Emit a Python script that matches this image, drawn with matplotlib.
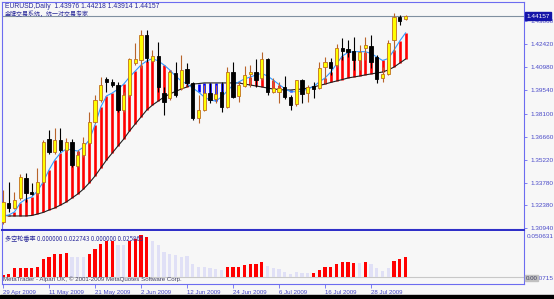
import matplotlib
matplotlib.use("Agg")
import numpy as np
from matplotlib import pyplot as plt
from matplotlib.patches import Rectangle

# ---- data (EURUSD daily, 29 Apr 2009 .. 5 Aug 2009) ----
opens = [1.3135, 1.3250, 1.3219, 1.3281, 1.3410, 1.3321, 1.3312, 1.3385, 1.3649, 1.3572,
         1.3645, 1.3582, 1.3634, 1.3483, 1.3551, 1.3624, 1.3759, 1.3894, 1.4024, 1.4009,
         1.3988, 1.3832, 1.3926, 1.4124, 1.4144, 1.4300, 1.4140, 1.4169, 1.3936, 1.3905,
         1.4065, 1.3968, 1.4086, 1.3999, 1.3780, 1.3832, 1.3936, 1.3899, 1.3946, 1.3853,
         1.4067, 1.3921, 1.3982, 1.4057, 1.4067, 1.4030, 1.4148, 1.3946, 1.3946, 1.3978,
         1.3911, 1.3870, 1.4019, 1.3940, 1.3982, 1.3968, 1.4099, 1.4134, 1.4113, 1.4217,
         1.4211, 1.4200, 1.4144, 1.4221, 1.4231, 1.4165, 1.4030, 1.4057, 1.4269, 1.4411,
         1.43976]
highs = [1.3333, 1.3385, 1.3322, 1.3433, 1.3437, 1.3375, 1.3468, 1.3645, 1.3707, 1.3718,
         1.3718, 1.3656, 1.3649, 1.3582, 1.3666, 1.3822, 1.3926, 1.4040, 1.4040, 1.4024,
         1.4007, 1.3946, 1.4155, 1.4248, 1.4331, 1.4331, 1.4206, 1.4258, 1.3978, 1.4082,
         1.4134, 1.4175, 1.4124, 1.4007, 1.3926, 1.3988, 1.3999, 1.3988, 1.4009, 1.4102,
         1.4134, 1.4009, 1.4109, 1.4113, 1.4148, 1.4196, 1.4155, 1.4030, 1.4009, 1.4044,
         1.3926, 1.4019, 1.4024, 1.3988, 1.4009, 1.4134, 1.4165, 1.4157, 1.4244, 1.4279,
         1.4269, 1.4289, 1.4238, 1.4289, 1.4300, 1.4175, 1.4102, 1.4269, 1.4435, 1.4425,
         1.44218]
lows = [1.3121, 1.3198, 1.3213, 1.3271, 1.3260, 1.3302, 1.3302, 1.3375, 1.3558, 1.3558,
        1.3572, 1.3572, 1.3475, 1.3475, 1.3541, 1.3620, 1.3751, 1.3882, 1.3946, 1.3978,
        1.3822, 1.3822, 1.3915, 1.4113, 1.4092, 1.4133, 1.4132, 1.3946, 1.3801, 1.3894,
        1.3913, 1.3957, 1.3988, 1.3770, 1.3749, 1.3826, 1.3874, 1.3874, 1.3822, 1.3843,
        1.3905, 1.3884, 1.3976, 1.3978, 1.3978, 1.4019, 1.3926, 1.3938, 1.3874, 1.3899,
        1.3832, 1.3857, 1.3874, 1.3884, 1.3905, 1.3961, 1.3999, 1.4051, 1.4102, 1.4144,
        1.4165, 1.4082, 1.4082, 1.4144, 1.4092, 1.3999, 1.4009, 1.4051, 1.4196, 1.4362,
        1.43914]
closes = [1.3260, 1.3219, 1.3271, 1.3412, 1.3312, 1.3308, 1.3381, 1.3634, 1.3572, 1.3645,
          1.3582, 1.3634, 1.3489, 1.3551, 1.3624, 1.3759, 1.3894, 1.3988, 1.4009, 1.3988,
          1.3832, 1.3926, 1.4148, 1.4148, 1.4300, 1.4155, 1.4169, 1.3978, 1.3884, 1.4071,
          1.3926, 1.4082, 1.4002, 1.3780, 1.3832, 1.3936, 1.3894, 1.3932, 1.3849, 1.4067,
          1.3915, 1.3988, 1.4051, 1.4067, 1.4019, 1.4148, 1.3946, 1.3968, 1.3968, 1.3911,
          1.3863, 1.4019, 1.3932, 1.3978, 1.3965, 1.4092, 1.4134, 1.4092, 1.4217, 1.4202,
          1.4196, 1.4144, 1.4196, 1.4238, 1.4132, 1.4024, 1.4057, 1.4248, 1.4411, 1.4387,
          1.44157]

fast_ma = [1.3171, 1.3177, 1.3196, 1.3252, 1.3277, 1.3289, 1.3327, 1.3383, 1.3458, 1.3520,
           1.3564, 1.3589, 1.3583, 1.3576, 1.3601, 1.3645, 1.3739, 1.3851, 1.3920, 1.3938,
           1.3963, 1.3994, 1.4038, 1.4075, 1.4113, 1.4138, 1.4153, 1.4138, 1.4113, 1.4082,
           1.4044, 1.4013, 1.3994, 1.3969, 1.3944, 1.3913, 1.3894, 1.3888, 1.3913, 1.3951,
           1.3988, 1.4007, 1.4026, 1.4038, 1.4051, 1.4060, 1.4044, 1.4019, 1.3991, 1.3966,
           1.3946, 1.3946, 1.3951, 1.3963, 1.3979, 1.4007, 1.4032, 1.4069, 1.4119, 1.4169,
           1.4191, 1.4196, 1.4196, 1.4196, 1.4185, 1.4163, 1.4141, 1.4153, 1.4206, 1.4263,
           1.4313]
slow_ma = [1.3177, 1.3171, 1.3171, 1.3171, 1.3171, 1.3174, 1.3183, 1.3193, 1.3208, 1.3221,
           1.3239, 1.3258, 1.3283, 1.3308, 1.3339, 1.3377, 1.3420, 1.3470, 1.3520, 1.3564,
           1.3608, 1.3651, 1.3701, 1.3745, 1.3788, 1.3832, 1.3863, 1.3888, 1.3913, 1.3932,
           1.3948, 1.3963, 1.3976, 1.3994, 1.3997, 1.4001, 1.4001, 1.4001, 1.4001, 1.4001,
           1.4001, 1.4001, 1.3994, 1.3988, 1.3982, 1.3976, 1.3969, 1.3963, 1.3960, 1.3957,
           1.3957, 1.3960, 1.3963, 1.3969, 1.3976, 1.3985, 1.3994, 1.4004, 1.4013, 1.4022,
           1.4032, 1.4038, 1.4044, 1.4051, 1.4057, 1.4063, 1.4069, 1.4082, 1.4100, 1.4125,
           1.4150]

ratio = [0.0026, 0.0034, 0.0108, 0.0108, 0.0108, 0.0108, 0.0119, 0.0202, 0.0224, 0.0261,
         0.0261, 0.0272, 0.0224, 0.0224, 0.0231, 0.0261, 0.0317, 0.0373, 0.0410, 0.0410,
         0.0362, 0.0362, 0.0410, 0.0429, 0.0474, 0.0448, 0.0410, 0.0362, 0.0287, 0.0261,
         0.0250, 0.0231, 0.0242, 0.0149, 0.0119, 0.0119, 0.0108, 0.0093, 0.0082, 0.0119,
         0.0112, 0.0112, 0.0138, 0.0146, 0.0146, 0.0168, 0.0130, 0.0101, 0.0090, 0.0063,
         0.0034, 0.0056, 0.0045, 0.0045, 0.0045, 0.0082, 0.0112, 0.0119, 0.0149, 0.0168,
         0.0175, 0.0164, 0.0164, 0.0168, 0.0146, 0.0101, 0.0074, 0.0108, 0.0183, 0.0205,
         0.022743]
ratio_up = [1, 1, 1, 1, 1, 1, 1, 1, 1, 1, 1, 1, 0, 0, 0, 1, 1, 1, 1, 1,
            0, 0, 1, 1, 1, 1, 0, 0, 0, 0, 0, 0, 0, 0, 0, 0, 0, 0, 0, 1,
            1, 1, 1, 1, 1, 1, 0, 0, 0, 0, 0, 0, 0, 0, 1, 1, 1, 1, 1, 1,
            1, 1, 0, 1, 0, 0, 0, 0, 1, 1, 1]

price_ticks = [1.43860, 1.42420, 1.40980, 1.39540, 1.38100, 1.36660,
               1.35220, 1.33780, 1.32380, 1.30940]
date_idx = [0, 8, 16, 24, 32, 40, 48, 56, 64]
date_labels = ['29 Apr 2009', '11 May 2009', '21 May 2009', '2 Jun 2009', '12 Jun 2009',
               '24 Jun 2009', '6 Jul 2009', '16 Jul 2009', '28 Jul 2009']
bid = 1.44157

# ---- figure ----
W, H = 554, 299
bg = '#f7f7f7'
frame = '#6c6cf0'
axis_txt = '#4a4ac8'
num_font = 'Liberation Sans'
cjk = ['Noto Sans CJK SC', 'DejaVu Sans']

fig = plt.figure(figsize=(W / 100, H / 100), dpi=100, facecolor=bg)


def px_axes(x0, y0, x1, y1):
    return fig.add_axes([x0 / W, 1 - y1 / H, (x1 - x0) / W, (y1 - y0) / H])


ax = px_axes(2, 2, 524, 230)
ax2 = px_axes(2, 231, 524, 284)

x = np.arange(len(opens))
o, h, l, c = map(np.array, (opens, highs, lows, closes))
fast, slow = np.array(fast_ma), np.array(slow_ma)

# MA ribbon histogram
up = fast >= slow
ax.vlines(x[up], slow[up], fast[up], colors='#ff0000', linewidth=1.9, zorder=1)
ax.vlines(x[~up], fast[~up], slow[~up], colors='#0000ff', linewidth=1.9, zorder=1)
ax.plot(x, slow, color='#202020', lw=0.8, zorder=2)
ax.plot(x, fast, color='#3399ff', lw=0.8, zorder=2)

# candles
bull = c >= o
ax.vlines(x[bull], l[bull], h[bull], colors='#b8642a', linewidth=0.8, zorder=3)
ax.vlines(x[~bull], l[~bull], h[~bull], colors='#000000', linewidth=0.8, zorder=3)
body_lo = np.minimum(o, c)
body_h = np.maximum(np.abs(c - o), 0.0003)
ax.bar(x[bull], body_h[bull], bottom=body_lo[bull], width=0.55, color='#ffff00',
       edgecolor='#c0701e', linewidth=0.6, zorder=4)
ax.bar(x[~bull], body_h[~bull], bottom=body_lo[~bull], width=0.55, color='#000000',
       edgecolor='#000000', linewidth=0.6, zorder=4)

ax.axhline(bid, color='#8090a0', lw=0.8, zorder=0)

ax.set_xlim(-0.17, 90.6)
ax.set_ylim(1.30834, 1.45059)
ax.set_facecolor(bg)
ax.set_xticks([])
ax.yaxis.tick_right()
ax.set_yticks(price_ticks)
ax.set_yticklabels(['%.5f' % p for p in price_ticks], fontsize=4.6,
                   color=axis_txt, family=num_font)
ax.tick_params(axis='y', length=2, width=0.6, color=frame, pad=2.5)
for s in ax.spines.values():
    s.set_color(frame)
    s.set_linewidth(0.8)
ax.spines['bottom'].set_color('#3030c8')
ax.spines['bottom'].set_linewidth(1.5)

# sub window histogram
up_r = np.array(ratio_up) == 1
rv = np.array(ratio)
ax2.bar(x[~up_r], rv[~up_r], width=0.55, color='#e0e0f6', zorder=2)
ax2.bar(x[up_r], rv[up_r], width=0.55, color='#ff0000', zorder=2)
ax2.axhline(0, color='#c8c8c8', lw=0.8, zorder=1)
ax2.set_xlim(-0.17, 90.6)
ax2.set_ylim(-0.0075, 0.0519)
ax2.set_facecolor(bg)
ax2.set_yticks([])
ax2.set_xticks(date_idx)
ax2.set_xticklabels(date_labels, fontsize=4.4, color=axis_txt, family=num_font, ha='left')
ax2.tick_params(axis='x', length=3, width=0.6, color=frame, pad=1.5)
for s in ax2.spines.values():
    s.set_color(frame)
    s.set_linewidth(0.8)
ax2.spines['top'].set_visible(False)

# texts
fig.text(5 / W, 1 - 6 / H, 'EURUSD,Daily  1.43976 1.44218 1.43914 1.44157',
         fontsize=4.9, color='#2a2a9a', family=num_font, va='center')
fig.text(5 / W, 1 - 13.5 / H, '金牌交易系统，统一对交易专家', fontsize=4.3,
         color='#2a2a9a', family=cjk, va='center')
fig.text(5 / W, 1 - 239 / H, '多空轮番率 0.000000 0.022743 0.000000 0.025865',
         fontsize=4.4, color='#2a2a9a', family=cjk, va='center')
fig.text(3 / W, 1 - 279 / H, 'MetaTrader - Alpari UK, © 2001-2009 MetaQuotes Software Corp.',
         fontsize=4.4, color='#404060', family=num_font, va='center')
fig.text(527 / W, 1 - 237 / H, '0.050631', fontsize=4.6, color=axis_txt,
         family=num_font, va='center')
fig.text(527 / W, 1 - 279 / H, '0.000715', fontsize=4.6, color=axis_txt,
         family=num_font, va='center')
fig.text(526 / W, 1 - 278 / H, '0.00', fontsize=4.4, color='#404060', family=num_font,
         va='center', bbox=dict(boxstyle='square,pad=0.1', fc='#c0c0c0', ec='#c0c0c0'))
fig.text(526.5 / W, 1 - 16 / H, '1.44157', fontsize=4.6, color='white', family=num_font,
         va='center', bbox=dict(boxstyle='square,pad=0.25', fc='#1414a8', ec='#1414a8'))

# bottom black strip
fig.patches.append(Rectangle((0, 0), 1, 4 / H, transform=fig.transFigure,
                             color='black', zorder=0))

fig.savefig('out.png', dpi=100, facecolor=bg)
